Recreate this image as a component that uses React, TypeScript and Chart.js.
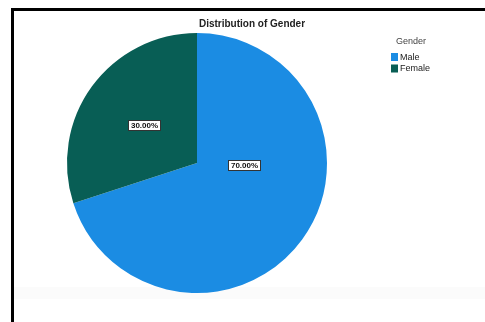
import React, { useEffect, useRef } from "react";
import { Chart, registerables } from "chart.js";

Chart.register(...registerables);

const categories = ["Male", "Female"];
const values = [70, 30];
const valueLabels = ["70.00%", "30.00%"];
const colors = ["#1B8CE3", "#085E55"];
const chartTitle = "Distribution of Gender";
const legendTitle = "Gender";
// label placement per slice: angle (deg clockwise from top) & radius fraction; null = slice middle
const labelAnchors: ({ angle: number; r: number } | null)[] = [{ angle: 92, r: 0.36 }, null];

const framePlugin = {
  id: "frame",
  beforeDraw(chart: any) {
    const { ctx } = chart;
    ctx.save();
    ctx.fillStyle = "#ffffff";
    ctx.fillRect(0, 0, chart.width, chart.height);
    ctx.fillStyle = "#fbfbfb";
    ctx.fillRect(14, 287, chart.width - 14, 12);
    ctx.fillStyle = "#000000";
    ctx.fillRect(11, 8, chart.width - 11, 3);
    ctx.fillRect(11, 8, 3, chart.height - 8);
    ctx.restore();
  },
};

const decorPlugin = {
  id: "decor",
  afterDraw(chart: any) {
    const { ctx } = chart;
    const meta = chart.getDatasetMeta(0);
    ctx.save();
    // title
    ctx.fillStyle = "#222222";
    ctx.font = "bold 10px 'Liberation Sans', Arial, sans-serif";
    ctx.textAlign = "center";
    ctx.textBaseline = "middle";
    ctx.fillText(chartTitle, 252, 24);

    // legend
    ctx.font = "9px 'Liberation Sans', Arial, sans-serif";
    ctx.fillStyle = "#444444";
    ctx.textAlign = "center";
    ctx.fillText(legendTitle, 411, 42);
    ctx.textAlign = "left";
    chart.data.labels.forEach((lab: string, i: number) => {
      const y = 57 + i * 11.5;
      ctx.fillStyle = chart.data.datasets[0].backgroundColor[i];
      ctx.fillRect(391, y - 4, 7, 8);
      ctx.fillStyle = "#222222";
      ctx.fillText(lab, 400, y + 0.5);
    });

    // value labels
    ctx.font = "bold 8px 'Liberation Sans', Arial, sans-serif";
    ctx.textAlign = "center";
    meta.data.forEach((arc: any, i: number) => {
      let x: number, y: number;
      const a = labelAnchors[i];
      if (a) {
        const ang = ((a.angle - 90) * Math.PI) / 180;
        x = arc.x + Math.cos(ang) * arc.outerRadius * a.r;
        y = arc.y + Math.sin(ang) * arc.outerRadius * a.r;
      } else {
        const mid = (arc.startAngle + arc.endAngle) / 2;
        const rr = (arc.innerRadius + arc.outerRadius) / 2;
        x = arc.x + Math.cos(mid) * rr;
        y = arc.y + Math.sin(mid) * rr;
      }
      const text = valueLabels[i];
      const w = Math.round(ctx.measureText(text).width + 5);
      const h = 10;
      const bx = Math.round(x - w / 2);
      const by = Math.round(y - h / 2);
      ctx.fillStyle = "#ffffff";
      ctx.fillRect(bx, by, w, h);
      ctx.strokeStyle = "#333333";
      ctx.lineWidth = 1;
      ctx.strokeRect(bx + 0.5, by + 0.5, w, h);
      ctx.fillStyle = "#111111";
      ctx.fillText(text, bx + w / 2 + 0.5, by + h / 2 + 1);
    });
    ctx.restore();
  },
};

export default function App() {
  const ref = useRef<HTMLCanvasElement | null>(null);
  useEffect(() => {
    if (!ref.current) return;
    const chart = new Chart(ref.current, {
      type: "pie",
      data: {
        labels: categories,
        datasets: [
          {
            data: values,
            backgroundColor: colors,
            borderWidth: 0,
          },
        ],
      },
      options: {
        responsive: false,
        animation: false,
        layout: { padding: { left: 67, top: 33, right: 158, bottom: 29 } },
        plugins: {
          legend: { display: false },
          title: { display: false },
          tooltip: { enabled: false },
        },
      },
      plugins: [framePlugin, decorPlugin],
    });
    return () => chart.destroy();
  }, []);
  return (
    <div style={{ position: "fixed", left: 0, top: 0, width: 485, height: 322 }}>
      <canvas ref={ref} width={485} height={322} style={{ display: "block" }} />
    </div>
  );
}
